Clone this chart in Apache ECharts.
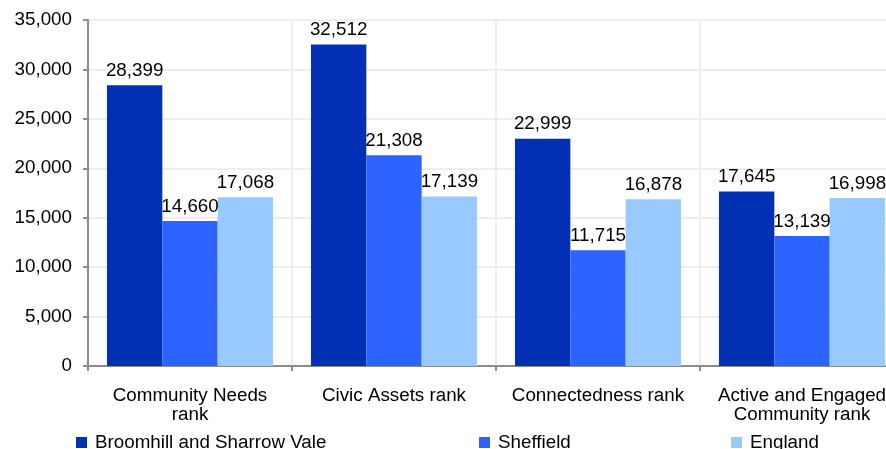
<!DOCTYPE html>
<html>
<head>
<meta charset="utf-8">
<script src="https://cdn.jsdelivr.net/npm/echarts@6/dist/echarts.min.js"></script>
<style>
html,body{margin:0;padding:0;background:#fff;overflow:hidden;}
#wrap{width:886px;height:449px;overflow:hidden;}
#chart{width:904px;height:449px;}
</style>
</head>
<body>
<div id="wrap"><div id="chart"></div></div>
<script>
const categories = ["Community Needs\nrank", "Civic Assets rank", "Connectedness rank", "Active and Engaged\nCommunity rank"];
const seriesNames = ["Broomhill and Sharrow Vale", "Sheffield", "England"];
const broomhill = [28399, 32512, 22999, 17645];
const sheffield = [14660, 21308, 11715, 13139];
const england = [17068, 17139, 16878, 16998];
const colors = ["#0230b4", "#2d63ff", "#99caff"];

const font = "Liberation Sans, Arial, sans-serif";
const fs = 18.8;
const chart = echarts.init(document.getElementById('chart'), null, {renderer: 'canvas'});
const dataSets = [broomhill, sheffield, england];

const fmt = v => v.toLocaleString('en-US');

const legendPos = [76, 479, 731];

chart.setOption({
  animation: false,
  textStyle: {fontFamily: font},
  legend: seriesNames.map((n, i) => ({
    data: [n],
    left: legendPos[i],
    top: 433,
    icon: 'rect',
    itemWidth: 11,
    itemHeight: 11,
    itemGap: 0,
    textStyle: {fontFamily: font, fontSize: fs, color: '#000', padding: [0, 0, 0, 3]},
    padding: 0
  })),
  grid: {left: 88, right: 0, top: 20, bottom: 83, containLabel: false},
  xAxis: {
    type: 'category',
    data: categories,
    axisLine: {lineStyle: {color: '#8c8c8c', width: 2}},
    axisTick: {show: true, length: 5, lineStyle: {color: '#8c8c8c', width: 2}},
    splitLine: {show: true, lineStyle: {color: '#eeeeee', width: 2}},
    axisLabel: {color: '#000', fontSize: fs, fontFamily: font, margin: 20, lineHeight: 19, interval: 0}
  },
  yAxis: {
    type: 'value',
    min: 0, max: 35000, interval: 5000,
    axisLine: {show: true, lineStyle: {color: '#8c8c8c', width: 2}},
    axisTick: {show: true, length: 5, lineStyle: {color: '#8c8c8c', width: 2}},
    splitLine: {show: true, lineStyle: {color: '#eeeeee', width: 2}},
    axisLabel: {color: '#000', fontSize: fs, fontFamily: font, margin: 16, formatter: v => fmt(v)}
  },
  series: seriesNames.map((n, i) => ({
    name: n,
    type: 'bar',
    data: dataSets[i],
    barGap: '0%',
    barCategoryGap: '18.6%',
    itemStyle: {color: colors[i]},
    label: {show: true, position: 'top', distance: 5, color: '#000', fontSize: fs, fontFamily: font, formatter: p => fmt(p.value)}
  }))
});
</script>
</body>
</html>
